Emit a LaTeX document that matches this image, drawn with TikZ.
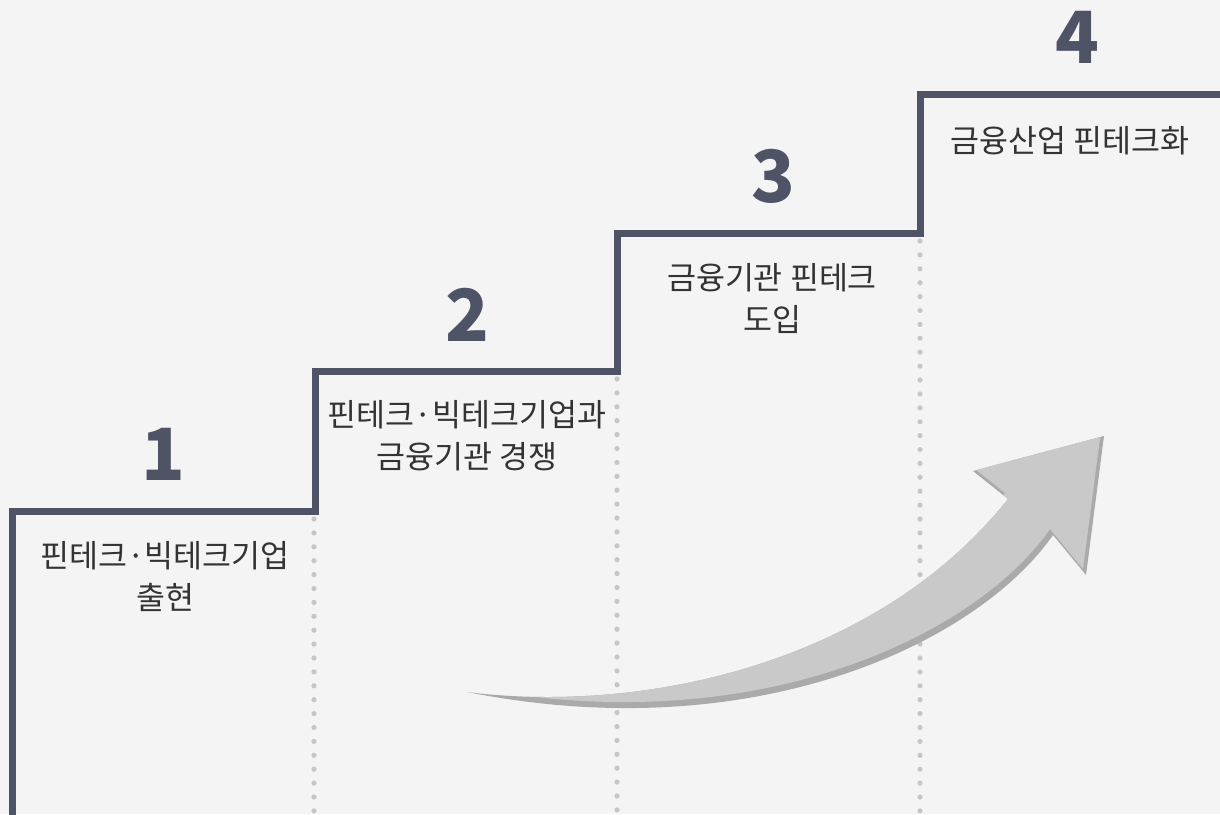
\documentclass[tikz,border=0pt]{standalone}
\usepackage{fontspec}
\newfontfamily\kr{Noto Sans CJK KR}
\definecolor{bgcol}{HTML}{F4F4F4}
\definecolor{stepcol}{HTML}{4E5366}
\definecolor{dotcol}{HTML}{C6C6C6}
\definecolor{txtcol}{HTML}{333333}
\definecolor{arrlight}{HTML}{C9C9C9}
\definecolor{arrdark}{HTML}{AAAAAA}
\tikzset{
  stepline/.style={draw=stepcol, line width=7pt, line join=miter},
  dotline/.style={draw=dotcol, line width=5.2pt, line cap=round, dash pattern=on 0pt off 13.9pt},
  numlabel/.style={text=stepcol, font=\kr\bfseries\fontsize{72}{72}\selectfont, inner sep=0pt},
  steplabel/.style={text=txtcol, font=\kr\fontsize{31.5}{42}\selectfont, align=center, inner sep=0pt},
}
\begin{document}
\begin{tikzpicture}[x=1pt,y=-1pt]
\fill[bgcol] (0,0) rectangle (1220,814);
\useasboundingbox (0,0) rectangle (1220,814);
% dotted guides
\draw[dotline] (314,519) -- (314,816);
\draw[dotline] (617,379) -- (617,816);
\draw[dotline] (920,241) -- (920,816);
% arrow
\def\arrowpath{(467,692) .. controls (650,715) and (880,660) .. (1008,499)
  -- (973,471) -- (1104,436) -- (1086,575) -- (1053,535)
  .. controls (980,640) and (760,750) .. (467,692) -- cycle}
\fill[arrdark] \arrowpath;
\begin{scope}
  \clip \arrowpath;
  \fill[arrlight, shift={(-3,-6)}] \arrowpath;
\end{scope}
% staircase
\draw[stepline] (12.5,818) -- (12.5,511) -- (315,511) -- (315,371) -- (617,371) -- (617,233) -- (920,233) -- (920,94) -- (1224,94);
% numbers
\node[numlabel] (n1) at (163,454) {1};
\node[numlabel] (n2) at (467,315) {2};
\node[numlabel] (n3) at (773,176) {3};
\node[numlabel] (n4) at (1077,37) {4};
% labels
\node[steplabel, anchor=north] (t1) at (165,541) {핀테크·빅테크기업\\출현};
\node[steplabel, anchor=north] (t2) at (467,400) {핀테크·빅테크기업과\\금융기관 경쟁};
\node[steplabel, anchor=north] (t3) at (772,263) {금융기관 핀테크\\도입};
\node[steplabel, anchor=north] (t4) at (1070,126) {금융산업 핀테크화};
\end{tikzpicture}
\end{document}
